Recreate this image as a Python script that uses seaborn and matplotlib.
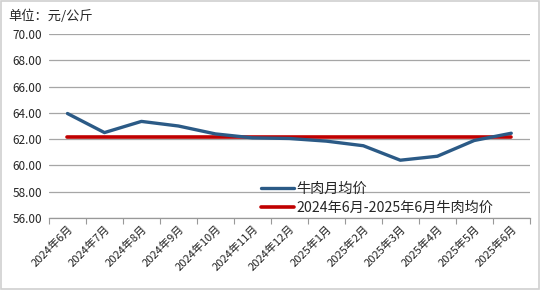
import matplotlib
matplotlib.use("Agg")
import matplotlib.pyplot as plt
import seaborn as sns
import pandas as pd
import numpy as np
from matplotlib.patches import Rectangle

months = ["2024年6月", "2024年7月", "2024年8月", "2024年9月", "2024年10月", "2024年11月",
          "2024年12月", "2025年1月", "2025年2月", "2025年3月", "2025年4月", "2025年5月", "2025年6月"]
monthly_price = [63.95, 62.5, 63.35, 63.0, 62.4, 62.1, 62.05, 61.85, 61.5, 60.4, 60.7, 61.9, 62.45]
avg_price = [62.17] * len(months)
series_names = ["牛肉月均价", "2024年6月-2025年6月牛肉均价"]
yticks = [56, 58, 60, 62, 64, 66, 68, 70]

sns.set_theme(style="white")
plt.rcParams['font.family'] = ['Noto Sans CJK SC', 'DejaVu Sans']

df = pd.DataFrame({"month": months, series_names[0]: monthly_price, series_names[1]: avg_price})
df["x"] = range(len(months))

fig = plt.figure(figsize=(5.4, 2.9), dpi=100)
ax = fig.add_axes([0.0907, 0.248, 0.8903, 0.635])

sns.lineplot(data=df, x="x", y=series_names[1], ax=ax, color="#C00000", linewidth=2.6,
             label=series_names[1], zorder=2)
sns.lineplot(data=df, x="x", y=series_names[0], ax=ax, color="#2B5A86", linewidth=2.4,
             label=series_names[0], zorder=3)

ax.set_xlim(-0.5, len(months) - 0.5)
ax.set_ylim(56, 70)
ax.set_yticks(yticks)
ax.set_yticklabels([f"{v:.2f}" for v in yticks], fontsize=8.5)
ax.set_xticks(range(len(months)))
ax.set_xticklabels(months, rotation=45, ha="right", rotation_mode="anchor", fontsize=8, color="#222222")
ax.set_xticks(np.arange(-0.5, len(months), 1.0), minor=True)
ax.tick_params(axis="x", which="major", length=0, pad=4)
ax.tick_params(axis="x", which="minor", length=4, color="#999999", width=0.8, bottom=True)
ax.tick_params(axis="y", length=0, pad=5)
ax.yaxis.grid(True, color="#A6A6A6", linewidth=0.9)
ax.set_axisbelow(True)
for s in ["left", "right", "top"]:
    ax.spines[s].set_visible(False)
ax.spines["bottom"].set_color("#999999")
ax.spines["bottom"].set_linewidth(0.9)
ax.set_xlabel("")
ax.set_ylabel("")

handles, labels = ax.get_legend_handles_labels()
order = [labels.index(series_names[0]), labels.index(series_names[1])]
ax.legend([handles[i] for i in order], [labels[i] for i in order], loc="upper left",
          bbox_to_anchor=(0.43, 0.225), frameon=False, fontsize=10.2, handlelength=2.3,
          handletextpad=0.15, labelspacing=0.3, borderaxespad=0)

fig.text(0.015, 0.945, "单位：元/公斤", fontsize=9.5, ha="left", va="center")
fig.patches.append(Rectangle((0.001, 0.002), 0.997, 0.995, transform=fig.transFigure,
                             fill=False, edgecolor="#D0D0D0", linewidth=1.2))

fig.savefig("out.png", dpi=100)
